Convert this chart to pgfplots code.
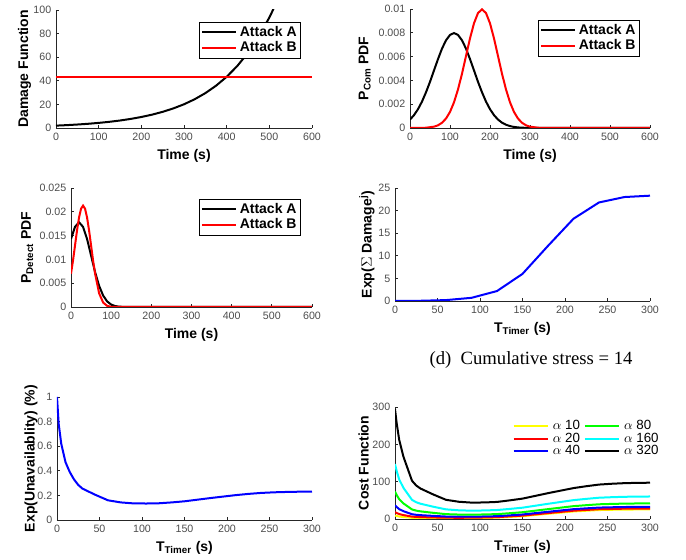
\documentclass[border=0pt]{standalone}
\usepackage{fontspec}
\setmainfont{Liberation Sans}
\newfontfamily\capfont{Liberation Serif}
\usepackage{pgfplots}
\pgfplotsset{compat=1.18}
\definecolor{tickgray}{rgb}{0.3,0.3,0.3}
\definecolor{axgray}{rgb}{0.15,0.15,0.15}
\definecolor{mcyan}{rgb}{0,1,1}
\definecolor{mgreen}{rgb}{0,1,0}
\definecolor{myellow}{rgb}{1,1,0}
\pgfplotsset{
  mlab/.style={
    scale only axis,
    axis lines*=left,
    tick align=inside,
    major tick length=2.5pt,
    axis line style={axgray, line width=0.5pt},
    every tick/.style={axgray, line width=0.5pt},
    tick label style={font=\fontsize{8}{9}\selectfont, text=tickgray},
    /pgf/number format/assume math mode=true,
    xlabel style={font=\bfseries\fontsize{10.5}{11}\selectfont},
    ylabel style={font=\bfseries\fontsize{10.5}{11}\selectfont},
    ylabel shift=-4pt,
    legend style={font=\bfseries\fontsize{10.5}{11}\selectfont, draw=black, line width=0.5pt,
      inner sep=1pt, row sep=-1.5pt, cells={anchor=west}},
    legend image code/.code={\draw[#1, line width=1.5pt] (0,0) -- (0.9cm,0);},
    every axis plot/.append style={line width=1.5pt},
    scaled ticks=false,
  }
}

\begin{document}
\begin{tikzpicture}
\path[use as bounding box] (0,0) rectangle (514.5pt,420pt);

% (a) damage function
\begin{axis}[mlab, at={(42pt,324pt)}, anchor=origin, width=192pt, height=88.5pt,
  xmin=0, xmax=600, ymin=0, ymax=100,
  xtick={0,100,...,600}, ytick={0,20,...,100},
  xlabel={Time (s)}, ylabel={Damage Function}, ylabel shift=-5pt,
  legend style={at={(0.957,0.898)}, anchor=north east}]
\addplot[black] coordinates {(0,2.00) (25,2.42) (50,2.94) (75,3.56) (100,4.32) (125,5.23)
  (150,6.34) (175,7.69) (200,9.32) (225,11.29) (250,13.69) (275,16.59) (300,20.10)
  (325,24.36) (350,29.53) (375,35.80) (400,43.39) (425,52.58) (450,63.73) (475,77.25)
  (500,93.62) (510,101.1)};
\addlegendentry{Attack A}
\addplot[red] coordinates {(0,43.5) (600,43.5)};
\addlegendentry{Attack B}
\end{axis}

% (b) compromise pdf
\begin{axis}[mlab, at={(307.5pt,324pt)}, anchor=origin, width=180pt, height=89.25pt,
  xmin=0, xmax=600, ymin=0, ymax=0.01,
  xtick={0,100,...,600}, ytick={0,0.002,0.004,0.006,0.008,0.01},
  yticklabels={0,0.002,0.004,0.006,0.008,0.01},
  xlabel={Time (s)}, ylabel={P\textsubscript{Com} PDF}, ylabel shift=-1pt,
  legend style={at={(0.958,0.908)}, anchor=north east}]
\addplot[black] coordinates {(0,0.000710) (10,0.00108) (20,0.00158) (30,0.00222) (40,0.00300)
  (50,0.00388) (60,0.00484) (70,0.00579) (80,0.00667) (90,0.00737) (100,0.00782)
  (110,0.00798) (120,0.00782) (130,0.00737) (140,0.00667) (150,0.00579) (160,0.00484)
  (170,0.00388) (180,0.00300) (190,0.00222) (200,0.00158) (210,0.00108) (220,0.000710)
  (230,0.000448) (240,0.000272) (250,0.000158) (260,0.0000886) (270,0.0000477)
  (280,0.0000247) (300,0.0000058) (320,0) (600,0)};
\addlegendentry{Attack A}
\addplot[red] coordinates {(0,0) (20,0.0000033) (40,0.0000218) (60,0.000111) (70,0.000227)
  (80,0.000438) (90,0.000793) (100,0.00135) (110,0.00216) (120,0.00324) (130,0.00456)
  (140,0.00605) (150,0.00753) (160,0.00880) (170,0.00966) (180,0.00997) (190,0.00966)
  (200,0.00880) (210,0.00753) (220,0.00605) (230,0.00456) (240,0.00324) (250,0.00216)
  (260,0.00135) (270,0.000793) (280,0.000438) (290,0.000227) (300,0.000111)
  (320,0.0000218) (340,0.0000033) (360,0) (600,0)};
\addlegendentry{Attack B}
\end{axis}

% (c) detection pdf
\begin{axis}[mlab, at={(53.25pt,189.75pt)}, anchor=origin, width=180.75pt, height=89.25pt,
  xmin=0, xmax=600, ymin=0, ymax=0.025,
  xtick={0,100,...,600}, ytick={0,0.005,0.01,0.015,0.02,0.025},
  yticklabels={0,0.005,0.01,0.015,0.02,0.025},
  xlabel={Time (s)}, ylabel={P\textsubscript{Detect} PDF}, ylabel shift=-2pt,
  legend style={at={(0.954,0.908)}, anchor=north east}]
\addplot[black] coordinates {(0,0.0143) (10,0.01684) (20,0.0178) (30,0.01684) (40,0.01430)
  (50,0.01080) (60,0.00732) (70,0.00444) (80,0.00241) (90,0.00117) (100,0.00051)
  (110,0.000198) (120,0.0000687) (140,0.000006) (160,0) (600,0)};
\addlegendentry{Attack A}
\addplot[red] coordinates {(0,0.0070) (5,0.00975) (10,0.01292) (15,0.01608) (20,0.01880)
  (25,0.02064) (30,0.0213) (35,0.02064) (40,0.01880) (45,0.01608) (50,0.01292)
  (55,0.00975) (60,0.00700) (70,0.00288) (80,0.000935) (90,0.000237) (100,0.0000467)
  (120,0) (600,0)};
\addlegendentry{Attack B}
\end{axis}

% (d) expected damage
\begin{axis}[mlab, at={(296.25pt,194.25pt)}, anchor=origin, width=191.25pt, height=84.75pt,
  xmin=0, xmax=300, ymin=0, ymax=25,
  xtick={0,50,...,300}, ytick={0,5,...,25},
  xlabel={T\textsubscript{Timer} (s)}, ylabel={Exp($\Sigma$ Damage\textsuperscript{j})}]
\addplot[blue] coordinates {(0,0) (30,0.05) (60,0.2) (90,0.7) (120,2.2) (150,6.0)
  (180,12.2) (210,18.2) (240,21.8) (270,23.0) (300,23.3)};
\end{axis}
\node[font=\capfont\fontsize{14}{15}\selectfont] at (398.25pt,150pt) {(d)\ \ Cumulative stress = 14};

% (e) expected unavailability
\begin{axis}[mlab, at={(42.75pt,30pt)}, anchor=origin, width=191.25pt, height=92.25pt,
  xmin=0, xmax=300, ymin=0, ymax=1,
  xtick={0,50,...,300}, ytick={0,0.2,...,1},
  xlabel={T\textsubscript{Timer} (s)}, ylabel={Exp(Unavailablity) (\%)}, ylabel shift=-7pt]
\addplot[blue] coordinates {(0,1.0) (2,0.78) (5,0.62) (10,0.47) (15,0.39) (20,0.33)
  (25,0.285) (30,0.255) (45,0.205) (60,0.16) (75,0.143) (90,0.135) (105,0.134)
  (120,0.136) (135,0.143) (150,0.152) (165,0.165) (180,0.178) (195,0.19) (210,0.202)
  (225,0.212) (240,0.22) (255,0.225) (270,0.228) (285,0.230) (300,0.231)};
\end{axis}

% (f) cost function
\begin{axis}[mlab, at={(296.25pt,30.75pt)}, anchor=origin, width=191.25pt, height=84pt,
  xmin=0, xmax=300, ymin=0, ymax=300,
  xtick={0,50,...,300}, ytick={0,100,200,300},
  xlabel={T\textsubscript{Timer} (s)}, ylabel={Cost Function},
  legend columns=3, transpose legend,
  legend style={at={(0.455,0.92)}, anchor=north west, draw=none, fill=none,
    font=\fontsize{10}{11}\selectfont, column sep=1pt, row sep=-3pt}]
\addplot[myellow] coordinates {(0,9.2) (2,8.0) (5,6.6) (10,5.2) (15,4.2) (20,3.2) (25,2.8)
  (30,2.6) (45,2.2) (60,1.8) (75,1.9) (90,2.1) (105,2.8) (120,3.6) (135,5.5) (150,7.5)
  (165,10.8) (180,14.0) (195,17.1) (210,20.2) (225,22.1) (240,24.0) (255,24.7)
  (270,25.3) (285,25.5) (300,25.6)};
\addlegendentry{$\alpha$ 10}
\addplot[red] coordinates {(0,18.4) (2,16.0) (5,13.2) (10,10.4) (15,8.4) (20,6.4) (25,5.6)
  (30,5.1) (45,4.2) (60,3.4) (75,3.3) (90,3.4) (105,4.1) (120,4.9) (135,7.0) (150,9.0)
  (165,12.4) (180,15.8) (195,19.0) (210,22.2) (225,24.2) (240,26.2) (255,26.9)
  (270,27.6) (285,27.8) (300,27.9)};
\addlegendentry{$\alpha$ 20}
\addplot[blue] coordinates {(0,36.8) (2,32.0) (5,26.4) (10,20.8) (15,16.8) (20,12.8)
  (25,11.2) (30,10.3) (45,8.3) (60,6.6) (75,6.2) (90,6.1) (105,6.8) (120,7.6) (135,9.8)
  (150,12.1) (165,15.7) (180,19.3) (195,22.8) (210,26.3) (225,28.5) (240,30.6)
  (255,31.4) (270,32.1) (285,32.4) (300,32.5)};
\addlegendentry{$\alpha$ 40}
\addplot[mgreen] coordinates {(0,73.6) (2,64.0) (5,52.8) (10,41.6) (15,33.6) (20,25.6)
  (25,22.4) (30,20.4) (45,16.5) (60,13.0) (75,11.9) (90,11.5) (105,12.2) (120,13.1)
  (135,15.5) (150,18.2) (165,22.3) (180,26.4) (195,30.4) (210,34.4) (225,37.0)
  (240,39.4) (255,40.4) (270,41.2) (285,41.6) (300,41.8)};
\addlegendentry{$\alpha$ 80}
\addplot[mcyan] coordinates {(0,147.2) (2,128.0) (5,105.6) (10,83.2) (15,67.2) (20,51.2)
  (25,44.8) (30,40.9) (45,32.9) (60,25.8) (75,23.3) (90,22.3) (105,22.9) (120,24.0)
  (135,27.0) (150,30.3) (165,35.5) (180,40.7) (195,45.6) (210,50.5) (225,53.9)
  (240,57.0) (255,58.4) (270,59.5) (285,59.9) (300,60.3)};
\addlegendentry{$\alpha$ 160}
\addplot[black] coordinates {(0,294.4) (2,256.0) (5,211.2) (10,166.4) (15,134.4) (20,102.4)
  (25,89.6) (30,81.6) (45,65.7) (60,51.4) (75,46.2) (90,43.9) (105,44.3) (120,45.7)
  (135,49.9) (150,54.6) (165,61.9) (180,69.2) (195,76.0) (210,82.8) (225,87.8)
  (240,92.2) (255,94.4) (270,96.0) (285,96.8) (300,97.2)};
\addlegendentry{$\alpha$ 320}
\end{axis}
\end{tikzpicture}
\end{document}
